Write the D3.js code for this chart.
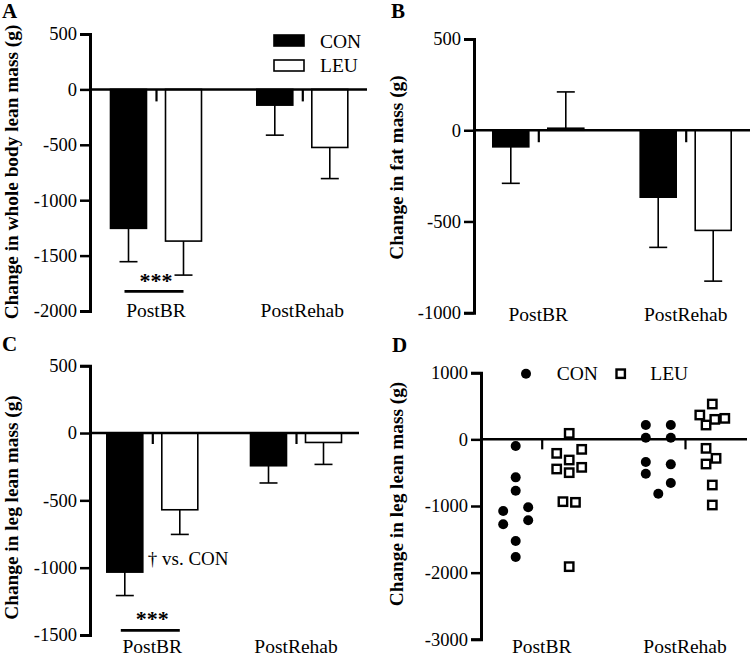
<!DOCTYPE html>
<html><head><meta charset="utf-8">
<script src="https://cdn.jsdelivr.net/npm/d3@7"></script>
<style>
html,body{margin:0;padding:0;background:#fff;}
svg{display:block;font-family:"Liberation Serif","Times New Roman",serif;}
svg text{font-family:"Liberation Serif","Times New Roman",serif;}
</style></head>
<body>
<svg id="chart" width="750" height="656"></svg>
<script>
// ---------- data ----------
const categories = ["PostBR", "PostRehab"];
const groups = ["CON", "LEU"];

// A: change in whole body lean mass (g), mean and SD
const wbLeanMeanCON = [-1254, -142];
const wbLeanSdCON   = [301, 271];
const wbLeanMeanLEU = [-1369, -524];
const wbLeanSdLEU   = [307, 281];
const ticksA = [500, 0, -500, -1000, -1500, -2000];

// B: change in fat mass (g)
const fatMeanCON = [-91, -367];
const fatSdCON   = [200, 275];
const fatMeanLEU = [11, -549];
const fatSdLEU   = [199, 278];
const ticksB = [500, 0, -500, -1000];

// C: change in leg lean mass (g)
const legMeanCON = [-1033, -243];
const legSdCON   = [174, 128];
const legMeanLEU = [-570, -70];
const legSdLEU   = [183, 163];
const ticksC = [500, 0, -500, -1000, -1500];

// D: individual change in leg lean mass (g)
const indCON_PostBR    = [-100, -570, -770, -1075, -1020, -1275, -1215, -1525, -1765];
const jitCON_PostBR    = [0, 0, 0, -1, 1, -1, 1, 0, 0];
const indLEU_PostBR    = [90, -210, -150, -310, -445, -500, -420, -935, -945, -1910];
const jitLEU_PostBR    = [0, -1, 1, 0, -1, 0, 1, -0.5, 0.5, 0];
const indCON_PostRehab = [215, 215, 25, 25, -340, -375, -515, -655, -815];
const jitCON_PostRehab = [-1, 1, -1, 1, -1, 1, -1, 1, 0];
const indLEU_PostRehab = [530, 365, 300, 315, 215, -135, -285, -370, -685, -985];
const jitLEU_PostRehab = [0, -1, 0.2, 1, -0.5, -0.5, 0.3, -0.5, 0, 0];
const ticksD = [1000, 0, -1000, -2000, -3000];

// ---------- drawing ----------
const svg = d3.select("#chart");
const FONT = '"Liberation Serif","Times New Roman",serif';
const GOFF = 27.5, BARW = 36;
const fmt = d => String(d);   // plain hyphen-minus like the reference

function panel(cfg) {
  const g = svg.append("g");
  const y = d3.scaleLinear().domain(cfg.domain).range(cfg.yRange);
  const x = d3.scalePoint().domain(categories).range(cfg.xCenters);

  g.append("text").attr("x", cfg.letterX).attr("y", cfg.letterY)
    .attr("font-size", 21).attr("font-weight", "bold").text(cfg.letter);

  g.append("text")
    .attr("transform", `translate(${cfg.titleX},${cfg.titleY}) rotate(-90)`)
    .attr("text-anchor", "middle").attr("font-size", 19.3).attr("font-weight", "bold")
    .text(cfg.title);

  const ya = g.append("g").attr("transform", `translate(${cfg.axisX},0)`)
    .call(d3.axisLeft(y).tickValues(cfg.ticks).tickSize(10).tickPadding(3).tickFormat(fmt));
  ya.attr("font-family", FONT);
  ya.select(".domain").attr("stroke", "#000").attr("stroke-width", 3);
  ya.selectAll(".tick line").attr("stroke", "#000").attr("stroke-width", 2.5);
  ya.selectAll(".tick text").attr("font-family", FONT).attr("font-size", 18.5).attr("fill", "#000");

  cfg.draw(g, x, y);

  g.append("line").attr("x1", cfg.axisX).attr("x2", cfg.zeroEnd)
    .attr("y1", y(0)).attr("y2", y(0)).attr("stroke", "#000").attr("stroke-width", 2.5);
  const xa = g.append("g").attr("transform", `translate(0,${y(0)})`)
    .call(d3.axisBottom(x).tickSize(cfg.xTick).tickFormat(""));
  xa.select(".domain").remove();
  xa.selectAll(".tick line").attr("stroke", "#000").attr("stroke-width", 2.2);

  g.selectAll(".cat").data(categories).enter().append("text")
    .attr("x", d => x(d)).attr("y", cfg.catY).attr("text-anchor", "middle")
    .attr("font-size", 19.5).text(d => d);
  return {g, x, y};
}

function bars(g, x, y, means, sds) {
  groups.forEach((grp, gi) => {
    const off = gi === 0 ? -GOFF : GOFF;
    categories.forEach((c, ci) => {
      const m = means[gi][ci], s = sds[gi][ci];
      const cx = x(c) + off;
      const end = m + (m >= 0 ? s : -s);
      g.append("line").attr("x1", cx).attr("x2", cx).attr("y1", y(m)).attr("y2", y(end))
        .attr("stroke", "#000").attr("stroke-width", 1.6);
      g.append("line").attr("x1", cx - BARW / 4).attr("x2", cx + BARW / 4)
        .attr("y1", y(end)).attr("y2", y(end)).attr("stroke", "#000").attr("stroke-width", 1.6);
      g.append("rect").attr("x", cx - BARW / 2).attr("width", BARW)
        .attr("y", Math.min(y(m), y(0))).attr("height", Math.abs(y(m) - y(0)))
        .attr("fill", gi === 0 ? "#000" : "#fff").attr("stroke", "#000").attr("stroke-width", 1.6);
    });
  });
}

function sig(g, x, y, lineVal, starVal) {
  const c = x("PostBR");
  g.append("line").attr("x1", c - GOFF - 4).attr("x2", c + GOFF)
    .attr("y1", y(lineVal)).attr("y2", y(lineVal)).attr("stroke", "#000").attr("stroke-width", 2.6);
  g.append("text").attr("x", c).attr("y", y(starVal)).attr("text-anchor", "middle")
    .attr("font-size", 22).attr("font-weight", "bold").text("***");
}

panel({
  letter: "A", letterX: 2, letterY: 18,
  title: "Change in whole body lean mass (g)", titleX: 17.5, titleY: 172,
  domain: [-2000, 500], yRange: [311, 34], ticks: ticksA,
  axisX: 90, xCenters: [156, 302.3], zeroEnd: 367, xTick: 12, catY: 317,
  draw: (g, x, y) => {
    bars(g, x, y, [wbLeanMeanCON, wbLeanMeanLEU], [wbLeanSdCON, wbLeanSdLEU]);
    sig(g, x, y, -1823, -1796);
    groups.forEach((grp, i) => {
      g.append("rect").attr("x", 274).attr("y", 35 + i * 25).attr("width", 30).attr("height", 11)
        .attr("fill", i === 0 ? "#000" : "#fff").attr("stroke", "#000").attr("stroke-width", 1.6);
      g.append("text").attr("x", 320).attr("y", 47.5 + i * 24.5).attr("font-size", 19.5).text(grp);
    });
  }
});

panel({
  letter: "B", letterX: 391, letterY: 18,
  title: "Change in fat mass (g)", titleX: 403, titleY: 167.5,
  domain: [-1000, 500], yRange: [312.7, 39], ticks: ticksB,
  axisX: 474, xCenters: [538.3, 685.7], zeroEnd: 750, xTick: 12, catY: 321,
  draw: (g, x, y) => {
    bars(g, x, y, [fatMeanCON, fatMeanLEU], [fatSdCON, fatSdLEU]);
  }
});

panel({
  letter: "C", letterX: 2, letterY: 351,
  title: "Change in leg lean mass (g)", titleX: 17.5, titleY: 507.5,
  domain: [-1500, 500], yRange: [635, 365.7], ticks: ticksC,
  axisX: 90, xCenters: [152.3, 296], zeroEnd: 359, xTick: 11, catY: 653,
  draw: (g, x, y) => {
    bars(g, x, y, [legMeanCON, legMeanLEU], [legSdCON, legSdLEU]);
    sig(g, x, y, -1466, -1431);
    g.append("text").attr("x", x("PostBR") - GOFF + BARW / 2 + 5).attr("y", y(-978))
      .attr("font-size", 19).text("\u2020 vs. CON");
  }
});

panel({
  letter: "D", letterX: 392, letterY: 352,
  title: "Change in leg lean mass (g)", titleX: 403, titleY: 494,
  domain: [-3000, 1000], yRange: [639.3, 372.7], ticks: ticksD,
  axisX: 481, xCenters: [541.7, 685], zeroEnd: 747, xTick: 10, catY: 653,
  draw: (g, x, y) => {
    const JIT = 12.5;
    const sets = [
      {cat: "PostBR", grp: 0, vals: indCON_PostBR, jit: jitCON_PostBR, off: -26},
      {cat: "PostBR", grp: 1, vals: indLEU_PostBR, jit: jitLEU_PostBR, off: 27.5},
      {cat: "PostRehab", grp: 0, vals: indCON_PostRehab, jit: jitCON_PostRehab, off: -26.7},
      {cat: "PostRehab", grp: 1, vals: indLEU_PostRehab, jit: jitLEU_PostRehab, off: 27.3}
    ];
    sets.forEach(s => {
      s.vals.forEach((v, i) => {
        const cx = x(s.cat) + s.off + s.jit[i] * JIT;
        if (s.grp === 0) {
          g.append("circle").attr("cx", cx).attr("cy", y(v)).attr("r", 5).attr("fill", "#000");
        } else {
          g.append("rect").attr("x", cx - 4.2).attr("y", y(v) - 4.2).attr("width", 8.4).attr("height", 8.4)
            .attr("fill", "#fff").attr("stroke", "#000").attr("stroke-width", 2.4);
        }
      });
    });
    g.append("circle").attr("cx", 526).attr("cy", 373.7).attr("r", 5).attr("fill", "#000");
    g.append("text").attr("x", 556.7).attr("y", 380).attr("font-size", 19.5).text(groups[0]);
    g.append("rect").attr("x", 620.7 - 4.2).attr("y", 373.7 - 4.2).attr("width", 8.4).attr("height", 8.4)
      .attr("fill", "#fff").attr("stroke", "#000").attr("stroke-width", 2.4);
    g.append("text").attr("x", 650.3).attr("y", 380).attr("font-size", 19.5).text(groups[1]);
  }
});
</script>
</body></html>
